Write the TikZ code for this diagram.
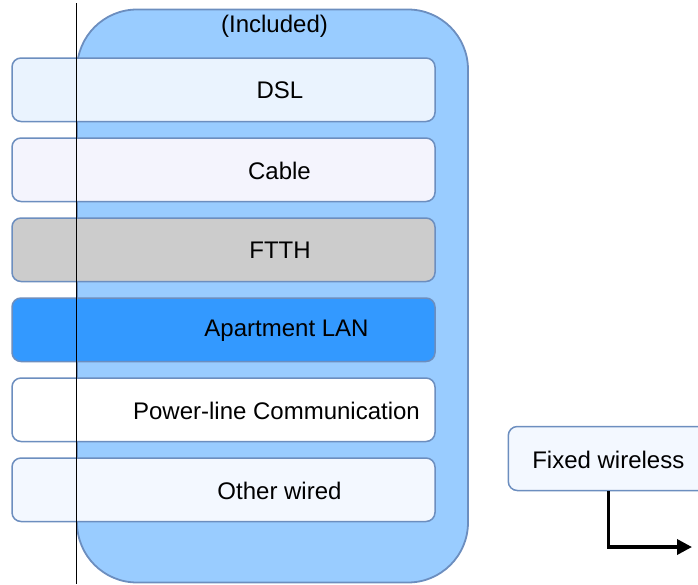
\documentclass[tikz,border=0pt]{standalone}
\usepackage{fontspec}
\setmainfont{Liberation Sans}
\usetikzlibrary{arrows.meta}
\definecolor{strk}{HTML}{6C8EBF}
\definecolor{contfill}{HTML}{99CCFF}
\definecolor{dslfill}{HTML}{EAF3FE}
\definecolor{cablefill}{HTML}{F4F4FD}
\definecolor{ftthfill}{HTML}{CCCCCC}
\definecolor{lanfill}{HTML}{3399FF}
\definecolor{plcfill}{HTML}{FFFFFF}
\definecolor{otherfill}{HTML}{F3F8FF}
\definecolor{fwfill}{HTML}{F3F8FF}
\begin{document}
\begin{tikzpicture}[x=1pt,y=-1pt,
  container/.style={draw=strk,fill=contfill,line width=1.8pt,rounded corners=60pt,
    minimum width=391pt,minimum height=573pt,inner sep=0pt,outer sep=0pt},
  rowbox/.style={draw=strk,line width=1.5pt,rounded corners=9pt,
    minimum width=423pt,minimum height=63.5pt,inner sep=0pt},
  txt/.style={font=\fontsize{24}{28}\selectfont,inner sep=0pt,text=black},
  fwbox/.style={draw=strk,fill=fwfill,line width=1.5pt,rounded corners=9pt,
    minimum width=200pt,minimum height=64pt,inner sep=0pt},
  conn/.style={line width=3.5pt,-{Triangle[length=15pt,width=15pt]}},
  vline/.style={line width=1.6pt,black}]
\useasboundingbox (0,0) rectangle (698,584);
\clip (0,0) rectangle (698,584);
% container
\node[container] (incl) at (272.5,296) {};
\node[txt] (incltxt) at (274.5,26) {(Included)};
% rows
\node[rowbox,fill=dslfill] (dsl) at (223.5,89.75) {};
\node[txt] (dsltxt) at (280,90.5) {DSL};
\node[rowbox,fill=cablefill] (cable) at (223.5,169.75) {};
\node[txt] (cabletxt) at (279.5,170.5) {Cable};
\node[rowbox,fill=ftthfill] (ftth) at (223.5,249.75) {};
\node[txt] (ftthtxt) at (280,250.5) {FTTH};
\node[rowbox,fill=lanfill] (lan) at (223.5,329.75) {};
\node[txt] (lantxt) at (286.5,330.5) {Apartment LAN};
\node[rowbox,fill=plcfill] (plc) at (223.5,409.75) {};
\node[txt] (plctxt) at (276.5,410.5) {Power-line Communication};
\node[rowbox,fill=otherfill] (other) at (223.5,489.75) {};
\node[txt] (othertxt) at (279.5,490.5) {Other wired};
% vertical line
\coordinate (vtop) at (76.4,3);
\coordinate (vbot) at (76.4,584);
\draw[vline] (vtop) -- (vbot);
% fixed wireless
\node[fwbox] (fw) at (608.3,458.5) {};
\node[txt] (fwtxt) at (608.3,459.5) {Fixed wireless};
\coordinate (fwend) at (692,547);
\draw[conn] (fw.south) |- (fwend);
\end{tikzpicture}
\end{document}
